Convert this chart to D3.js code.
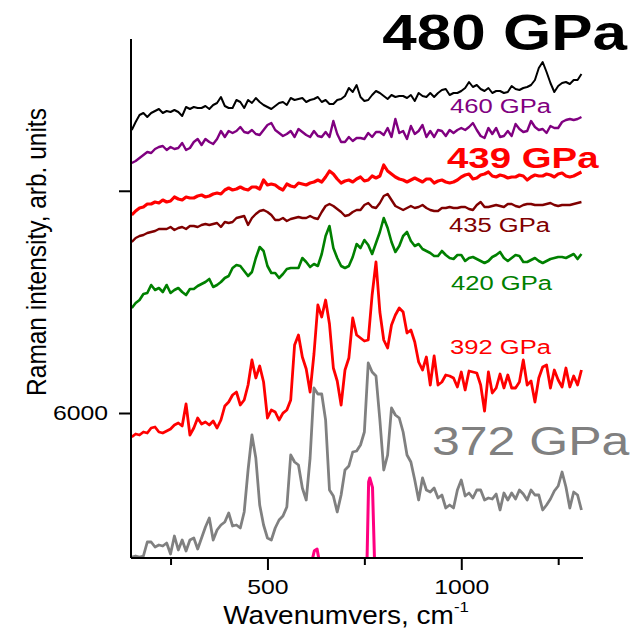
<!DOCTYPE html>
<html>
<head>
<meta charset="utf-8">
<script src="https://cdn.jsdelivr.net/npm/d3@7"></script>
<style>
  body { margin: 0; background: #ffffff; }
  text { font-family: Arial, "Liberation Sans", sans-serif; }
</style>
</head>
<body>
<svg id="chart" width="638" height="636"></svg>
<script>
// Raman spectra sampled every 10 cm^-1 from 150 to 1310 cm^-1
const wavenumbers = d3.range(150, 1311, 10);

const s480 = [8547,8619,8682,8700,8664,8700,8718,8736,8700,8718,8709,8727,8709,8673,8754,8736,8754,8745,8745,8763,8736,8772,8790,8844,8763,8745,8745,8817,8799,8745,8817,8790,8835,8799,8772,8754,8736,8763,8790,8799,8772,8835,8817,8826,8835,8799,8817,8826,8844,8799,8817,8781,8781,8817,8826,8853,8925,8889,8952,8844,8808,8817,8862,8898,8880,8853,8826,8862,8844,8853,8853,8835,8862,8808,8880,8853,8844,8880,8844,8880,8907,8916,8862,8880,8880,8898,8925,8979,8934,8952,8916,8898,8925,8880,8898,8898,8880,8889,8943,8916,8907,8925,8934,8952,8997,9105,9159,9069,8970,8889,8943,8970,8979,8961,8997,8997,9051];

const s460 = [8250,8268,8295,8322,8349,8340,8376,8394,8403,8367,8394,8376,8385,8430,8367,8385,8439,8466,8412,8466,8439,8421,8466,8538,8484,8538,8520,8538,8574,8529,8520,8547,8511,8502,8547,8592,8610,8547,8520,8493,8511,8538,8484,8556,8529,8502,8484,8538,8493,8484,8529,8484,8628,8511,8439,8439,8484,8448,8475,8475,8466,8520,8484,8529,8529,8502,8565,8484,8646,8520,8538,8466,8583,8511,8538,8592,8484,8538,8484,8547,8538,8493,8547,8520,8547,8565,8547,8574,8610,8547,8493,8475,8565,8511,8565,8484,8493,8538,8493,8601,8556,8529,8538,8628,8574,8547,8556,8520,8583,8565,8565,8619,8637,8646,8637,8646,8664];

const s439 = [7782,7818,7845,7854,7881,7881,7899,7890,7917,7899,7908,7944,7926,7917,7944,7935,7935,7953,7962,7944,7953,7971,7980,7971,8007,8025,8007,8016,8034,8016,8007,8034,8034,8016,8097,8052,8061,8052,8025,8007,8061,8043,8034,8070,8061,8052,8070,8079,8097,8079,8124,8178,8151,8106,8070,8088,8097,8079,8106,8124,8088,8097,8133,8115,8133,8232,8178,8151,8124,8106,8097,8079,8097,8115,8097,8079,8106,8106,8070,8088,8097,8079,8070,8079,8097,8124,8142,8151,8106,8115,8142,8151,8169,8133,8124,8142,8133,8115,8124,8124,8142,8133,8097,8124,8142,8133,8133,8151,8142,8124,8151,8160,8133,8124,8133,8151,8169];

const s435 = [7539,7575,7593,7602,7620,7629,7638,7656,7656,7656,7674,7647,7665,7674,7656,7683,7683,7674,7692,7701,7692,7701,7710,7674,7719,7710,7719,7755,7764,7773,7692,7755,7791,7818,7827,7809,7782,7737,7737,7755,7728,7746,7755,7764,7755,7755,7773,7755,7746,7809,7863,7881,7863,7836,7809,7773,7782,7809,7827,7827,7872,7890,7854,7845,7890,7953,7971,7917,7863,7845,7827,7845,7863,7845,7854,7872,7845,7827,7818,7818,7845,7845,7854,7845,7845,7854,7854,7836,7827,7872,7899,7854,7854,7863,7872,7863,7854,7881,7881,7863,7854,7872,7881,7881,7872,7872,7872,7881,7890,7872,7863,7872,7872,7872,7881,7890,7899];

const s420 = [6945,6990,7017,7071,7080,7152,7107,7125,7089,7152,7080,7107,7125,7089,7062,7116,7116,7143,7161,7179,7206,7134,7152,7179,7215,7233,7305,7332,7323,7278,7233,7269,7395,7494,7458,7323,7260,7260,7215,7251,7296,7305,7305,7305,7395,7359,7314,7341,7323,7431,7593,7683,7485,7395,7323,7305,7323,7404,7521,7485,7557,7512,7431,7530,7629,7755,7665,7539,7449,7503,7593,7629,7548,7503,7521,7476,7458,7440,7413,7413,7458,7422,7395,7386,7422,7422,7368,7395,7404,7386,7368,7350,7368,7404,7422,7449,7395,7368,7395,7422,7413,7359,7359,7377,7395,7368,7350,7368,7386,7395,7404,7404,7395,7413,7431,7386,7431];

const s392 = [5784,5811,5802,5829,5820,5865,5874,5829,5820,5838,5856,5892,5910,5883,6081,5802,5865,5955,5901,5919,5892,5928,5865,5937,6063,6099,6162,6189,6072,6117,6252,6477,6315,6423,6279,5955,6027,6009,5937,5999,6027,6117,6612,6702,6504,6396,6189,6531,6972,6864,7017,6801,6405,6288,6072,6387,6495,6855,6702,6675,6648,6657,7062,7359,6909,6657,6585,6792,6882,6945,6909,6720,6747,6639,6459,6387,6504,6252,6513,6252,6279,6342,6333,6315,6234,6369,6207,6378,6369,6360,6252,6018,6369,6180,6225,6351,6225,6342,6225,6225,6279,6477,6252,6288,6099,6315,6414,6432,6225,6387,6297,6234,6405,6234,6333,6252,6387];

const s372 = [4704,4713,4704,4713,4839,4839,4794,4812,4803,4830,4731,4893,4767,4857,4758,4857,4875,4776,4875,4974,5055,4857,4947,4992,5019,5100,4983,4992,4965,5109,5487,5802,5595,5172,4992,4875,4857,4965,5037,5073,5154,5622,5559,5532,5325,5217,5595,6225,6171,6171,5937,5307,5253,5109,5262,5487,5523,5649,5658,5712,5829,6450,6369,6333,5937,5487,5622,6045,5982,5955,5829,5622,5559,5397,5217,5415,5307,5289,5325,5235,5262,5145,5172,5145,5307,5397,5253,5280,5235,5307,5307,5217,5235,5226,5271,5127,5280,5217,5280,5226,5307,5271,5217,5307,5262,5262,5127,5172,5226,5298,5343,5469,5334,5145,5289,5262,5127];

// narrow pink band, only partly inside the frame
const pinkWavenumbers = [605, 617, 621, 628, 632, 640, 750, 757, 761, 764, 771, 776, 782];
const pinkValues      = [4550, 4700, 4760, 4775, 4700, 4550, 4500, 4700, 5380, 5415, 5330, 4700, 4500];

const seriesNames  = ["480 GPa", "460 GPa", "439 GPa", "435 GPa", "420 GPa", "392 GPa", "372 GPa"];
const seriesColors = ["#000000", "#800080", "#ff0000", "#800000", "#008000", "#ff0000", "#808080"];
const seriesData   = [s480, s460, s439, s435, s420, s392, s372];
const seriesWidths = [2, 2.4, 3.2, 2.4, 2.6, 2.8, 2.8];

const xTickValues = [250, 500, 750, 1000, 1250];
const xTickLabels = ["", "500", "", "1000", ""];
const yTickValues = [6000, 8000];
const yTickLabels = ["6000", ""];

const svg = d3.select("#chart");
const plotLeft = 131, plotRight = 583, plotTop = 39, plotBottom = 558;

const x = d3.scaleLinear().domain([148, 1314]).range([plotLeft, plotRight]);
const y = d3.scaleLinear().domain([4695, 9366]).range([plotBottom, plotTop]);

svg.append("defs").append("clipPath").attr("id", "plot")
  .append("rect").attr("x", plotLeft).attr("y", plotTop)
  .attr("width", plotRight - plotLeft + 4).attr("height", plotBottom - plotTop);

const line = d3.line().x(d => x(d[0])).y(d => y(d[1]));
const g = svg.append("g").attr("clip-path", "url(#plot)");

// bottom spectrum first so upper traces sit on top
for (let i = seriesData.length - 1; i >= 0; i--) {
  const pts = wavenumbers.map((w, j) => [w, seriesData[i][j]]);
  g.append("path").datum(pts)
    .attr("d", line)
    .attr("fill", "none")
    .attr("stroke", seriesColors[i])
    .attr("stroke-width", seriesWidths[i])
    .attr("stroke-linejoin", "round");
}
g.append("path")
  .datum(pinkWavenumbers.map((w, j) => [w, pinkValues[j]]))
  .attr("d", line).attr("fill", "none")
  .attr("stroke", "#ff0080").attr("stroke-width", 3).attr("stroke-linejoin", "round");

// x axis
const xAxis = d3.axisBottom(x).tickValues(xTickValues).tickSize(12)
  .tickFormat((d, i) => xTickLabels[i]);
const gx = svg.append("g").attr("transform", `translate(0,${plotBottom})`).call(xAxis);
gx.select(".domain").attr("d", `M${plotLeft},0H${plotRight}`).attr("stroke-width", 2);
gx.selectAll(".tick line").attr("stroke-width", 2).attr("y2", (d, i) => xTickLabels[i] ? 12 : 7);
gx.selectAll(".tick text").style("font-size", "20px").attr("y", 22).attr("fill", "#000")
  .attr("transform", "scale(1.24,1)");

// y axis
const yAxis = d3.axisLeft(y).tickValues(yTickValues).tickSize(12)
  .tickFormat((d, i) => yTickLabels[i]);
const gy = svg.append("g").attr("transform", `translate(${plotLeft},0)`).call(yAxis);
gy.select(".domain").attr("d", `M0,${plotTop}V${plotBottom}`).attr("stroke-width", 2);
gy.selectAll(".tick line").attr("stroke-width", 2);
gy.selectAll(".tick text").style("font-size", "20px").attr("fill", "#000").attr("x", -18.5)
  .attr("transform", "scale(1.24,1)");

// axis titles
const xt = svg.append("text")
  .attr("transform", "translate(346,624) scale(1.12,1)")
  .attr("text-anchor", "middle").style("font-size", "25px").attr("fill", "#000");
xt.append("tspan").text("Wavenumvers, cm");
xt.append("tspan").style("font-size", "15px").attr("dy", -12).text("-1");

svg.append("text")
  .attr("transform", "translate(46,252) rotate(-90) scale(1.02,1.14)")
  .attr("text-anchor", "middle").style("font-size", "24px").attr("fill", "#000")
  .text("Raman intensity, arb. units");

// pressure labels
function label(txt, px, py, size, color, weight, anchor, sx) {
  return svg.append("text")
    .attr("transform", `translate(${px},${py}) scale(${sx},1)`)
    .style("font-size", size + "px").attr("fill", color)
    .attr("font-weight", weight).attr("text-anchor", anchor)
    .text(txt);
}
label(seriesNames[0], 627, 50, 50, seriesColors[0], "bold", "end", 1.24);
label(seriesNames[1], 450, 113, 21, seriesColors[1], "normal", "start", 1.22);
label(seriesNames[2], 447, 168, 30, seriesColors[2], "bold", "start", 1.28);
label(seriesNames[3], 449, 232, 21, seriesColors[3], "normal", "start", 1.22);
label(seriesNames[4], 451, 290, 21, seriesColors[4], "normal", "start", 1.22);
label(seriesNames[5], 450, 354, 21, seriesColors[5], "normal", "start", 1.22);
label(seriesNames[6], 432, 455, 40, seriesColors[6], "normal", "start", 1.25);
</script>
</body>
</html>
